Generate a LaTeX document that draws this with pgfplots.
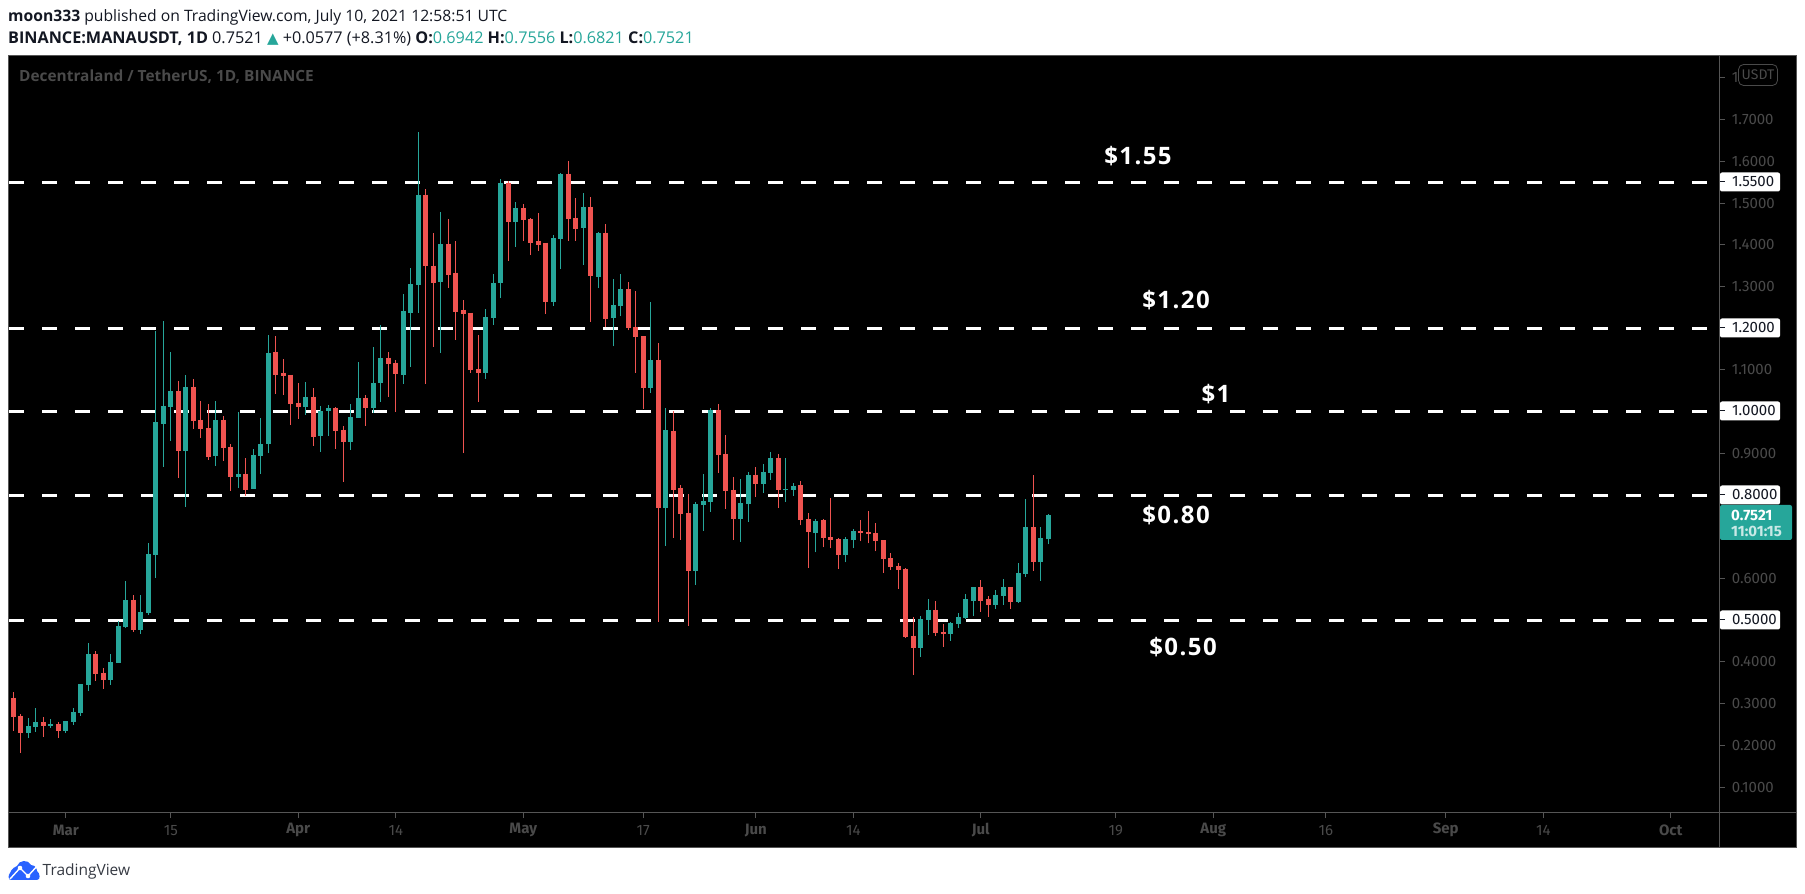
\documentclass[border=0pt]{standalone}
\usepackage{pgfplots}
\usepackage{pgfplotstable}
\usepackage{fontspec}
\pgfplotsset{compat=1.18}
\setmainfont{Open Sans}
\newfontfamily\axfont{Fira Sans}
\newfontfamily\symfont{DejaVu Sans}
\newfontfamily\annfont[LetterSpace=6]{Open Sans}
\definecolor{up}{HTML}{26A69A}
\definecolor{dn}{HTML}{EF5350}
\definecolor{axc}{HTML}{555555}
\definecolor{txc}{HTML}{4A4A4A}
\definecolor{ink}{HTML}{131722}
\definecolor{tvb}{HTML}{2962FF}
\pgfplotstableread{
d o h l c
-5 0.2303 0.2663 0.2183 0.2471
-4 0.2447 0.2903 0.2327 0.2567
-2 0.2471 0.2639 0.2423 0.2519
0 0.2351 0.2591 0.2303 0.2591
1 0.2567 0.2903 0.2495 0.2807
2 0.2783 0.3479 0.2711 0.3479
3 0.3455 0.4463 0.3311 0.4199
6 0.3575 0.4199 0.3455 0.4007
7 0.3983 0.4991 0.3983 0.4871
8 0.4847 0.5951 0.4823 0.5495
10 0.4775 0.5615 0.4679 0.5207
11 0.5183 0.6863 0.5135 0.6599
12 0.6575 1.1923 0.6023 0.9743
13 0.9715 1.2163 0.8683 1.0147
14 1.0123 1.1443 0.9307 1.0507
16 0.9067 1.0891 0.7723 1.0603
20 0.8947 1.0267 0.8707 0.9811
23 0.8443 0.9991 0.8179 0.8515
25 0.8155 0.9115 0.8155 0.8971
26 0.8947 0.9859 0.8515 0.9235
27 0.9235 1.1827 0.9019 1.1419
32 1.0123 1.0723 0.9931 1.0363
34 0.9427 1.0147 0.9043 1.0027
35 1.0027 1.0171 0.9427 1.0099
38 0.9283 1.0195 0.9091 0.9883
39 0.9859 1.1203 0.9859 1.0339
41 1.0099 1.1539 0.9979 1.0699
42 1.0699 1.2067 1.0243 1.1299
45 1.0891 1.2811 1.0675 1.2403
46 1.2373 1.3453 1.1077 1.3069
47 1.3045 1.6693 1.2373 1.5205
50 1.3117 1.4797 1.1413 1.4029
56 1.0933 1.2469 1.0789 1.2277
57 1.2253 1.3309 1.2085 1.3093
58 1.3093 1.5589 1.2733 1.5493
60 1.4557 1.5037 1.3957 1.4893
65 1.2637 1.4245 1.2541 1.4173
66 1.4149 1.5733 1.3429 1.5709
69 1.4413 1.5253 1.3525 1.4917
71 1.3237 1.4317 1.2973 1.4293
73 1.2235 1.3171 1.1563 1.2547
74 1.2523 1.3291 1.2283 1.2931
78 1.0579 1.2619 1.0459 1.1251
80 0.7699 1.0099 0.6787 0.9571
84 0.6187 0.7843 0.5851 0.7795
85 0.7771 0.8515 0.7147 0.7867
86 0.7843 1.0099 0.7603 1.0051
90 0.7435 0.8395 0.6883 0.7819
91 0.7795 0.8563 0.7363 0.8491
93 0.8275 0.8755 0.8059 0.8563
94 0.8539 0.9043 0.8371 0.8899
96 0.8131 0.8899 0.7843 0.8155
97 0.8131 0.8299 0.7987 0.8227
100 0.7081 0.7417 0.6625 0.7369
104 0.6553 0.6985 0.6385 0.6937
105 0.6913 0.7177 0.6721 0.7129
114 0.4345 0.5113 0.4129 0.5041
115 0.5017 0.5521 0.4657 0.5257
118 0.4681 0.4969 0.4513 0.4945
119 0.4921 0.5185 0.4825 0.5089
120 0.5065 0.5641 0.5041 0.5521
121 0.5473 0.5809 0.5113 0.5809
124 0.5377 0.5737 0.5281 0.5617
125 0.5593 0.6001 0.5377 0.5809
127 0.5449 0.6361 0.5425 0.6145
128 0.6121 0.7897 0.6049 0.7225
130 0.6385 0.7225 0.5953 0.6961
131 0.6942 0.7556 0.6821 0.7521
}\upcandles
\pgfplotstableread{
d o h l c
-7 0.3143 0.3287 0.2351 0.2687
-6 0.2711 0.2759 0.1823 0.2303
-3 0.2567 0.2687 0.2207 0.2471
-1 0.2519 0.2567 0.2183 0.2351
4 0.4199 0.4271 0.3551 0.3719
5 0.3743 0.3863 0.3359 0.3575
9 0.5495 0.5615 0.4727 0.4775
15 1.0507 1.0747 0.8419 0.9067
17 1.0603 1.0795 0.9595 0.9787
18 0.9811 1.0267 0.9379 0.9595
19 0.9619 1.0195 0.8851 0.8923
21 0.9811 0.9907 0.8827 0.9139
22 0.9163 0.9235 0.8107 0.8443
24 0.8515 0.8899 0.7987 0.8131
28 1.1443 1.1803 1.0435 1.0891
29 1.0939 1.1275 1.0411 1.0867
30 1.0891 1.0891 0.9691 1.0195
31 1.0219 1.0699 0.9835 1.0123
33 1.0363 1.0579 0.9187 0.9403
36 1.0099 1.0123 0.9115 0.9547
37 0.9571 0.9667 0.8323 0.9283
40 1.0339 1.0411 0.9667 1.0099
43 1.1299 1.1443 1.0363 1.1155
44 1.1179 1.1251 0.9999 1.0915
48 1.5205 1.5349 1.0669 1.3501
49 1.3501 1.4293 1.1557 1.3093
51 1.4029 1.4629 1.2973 1.3285
52 1.3333 1.4101 1.1725 1.2397
53 1.2445 1.2685 0.9005 1.2349
54 1.2373 1.2373 1.0933 1.1005
55 1.1029 1.1845 1.0237 1.0933
59 1.5493 1.5541 1.3621 1.4557
61 1.4893 1.4989 1.4101 1.4605
62 1.4629 1.4653 1.3765 1.4053
63 1.4101 1.4773 1.3861 1.4005
64 1.4053 1.4053 1.2349 1.2637
67 1.5709 1.6021 1.4101 1.4629
68 1.4653 1.5133 1.4101 1.4389
70 1.4917 1.5157 1.2157 1.3261
72 1.4293 1.4509 1.2037 1.2229
75 1.2931 1.3099 1.1947 1.1995
76 1.2019 1.2883 1.0939 1.1779
77 1.1803 1.1803 1.0075 1.0579
79 1.1251 1.1635 0.4963 0.7699
81 0.9547 1.0027 0.6979 0.8131
82 0.8179 0.8251 0.6931 0.7555
83 0.7579 0.8035 0.4867 0.6187
87 1.0051 1.0195 0.8539 0.8971
88 0.8995 0.9451 0.7675 0.8107
89 0.8131 0.8443 0.6931 0.7435
92 0.8491 0.8683 0.7963 0.8275
95 0.8899 0.8995 0.7699 0.8131
98 0.8233 0.8329 0.7273 0.7393
99 0.7417 0.7561 0.6265 0.7105
101 0.7393 0.7417 0.6745 0.6961
102 0.6985 0.7921 0.6721 0.6913
103 0.6937 0.6961 0.6241 0.6553
106 0.7129 0.7393 0.6889 0.7081
107 0.7105 0.7609 0.6841 0.7057
108 0.7081 0.7321 0.6649 0.6889
109 0.6913 0.6913 0.6145 0.6457
110 0.6481 0.6601 0.6217 0.6289
111 0.6313 0.6361 0.5761 0.6217
112 0.6241 0.6265 0.4585 0.4609
113 0.4633 0.5089 0.3697 0.4345
116 0.5257 0.5473 0.4633 0.4705
117 0.4729 0.4921 0.4369 0.4681
122 0.5809 0.5977 0.5209 0.5473
123 0.5521 0.5593 0.5089 0.5377
126 0.5809 0.5809 0.5281 0.5449
129 0.7225 0.8473 0.6193 0.6385
}\downcandles
\begin{document}
\begin{tikzpicture}
\path[use as bounding box] (0pt,0pt) rectangle (1805pt,894pt);
\begin{scope}[x=1pt,y=-1pt,yshift=894pt]
  \fill[black] (8,55) rectangle (1797,847.5);
\end{scope}
\begin{axis}[
  at={(8pt,81.5pt)}, anchor=south west, scale only axis,
  width=1711pt, height=757pt,
  xmin=-7.707, xmax=220.43, ymin=0.0392, ymax=1.8539,
  axis x line*=bottom, axis y line*=right,
  axis line style={axc,-,line width=1pt},
  tick style={axc,line width=1pt},
  tick align=outside, major tick length=5.7pt,
  xtick={0,14,31,44,61,77,92,105,122,140,153,168,184,197,214},
  xticklabels={\textbf{Mar},15,\textbf{Apr},14,\textbf{May},17,\textbf{Jun},14,\textbf{Jul},19,\textbf{Aug},16,\textbf{Sep},14,\textbf{Oct}},
  xticklabel style={font=\axfont\fontsize{15pt}{17pt}\selectfont, text=txc, anchor=center, yshift=-12pt},
  ytick={0.1,0.2,0.3,0.4,0.5,0.6,0.7,0.8,0.9,1.0,1.1,1.2,1.3,1.4,1.5,1.6,1.7,1.8},
  yticklabels={0.1000,0.2000,0.3000,0.4000,,0.6000,,,0.9000,,1.1000,,1.3000,1.4000,1.5000,1.6000,1.7000,1},
  yticklabel style={font=\axfont\fontsize{15pt}{17pt}\selectfont, text=txc, anchor=west, inner sep=0pt, xshift=7pt},
  clip=true,
]
\addplot[white, line width=3pt, dash pattern=on 15pt off 18pt] coordinates {(-7.573,1.55) (218.83,1.55)};
\addplot[white, line width=3pt, dash pattern=on 15pt off 18pt] coordinates {(-7.573,1.2) (218.83,1.2)};
\addplot[white, line width=3pt, dash pattern=on 15pt off 18pt] coordinates {(-7.573,1.0) (218.83,1.0)};
\addplot[white, line width=3pt, dash pattern=on 15pt off 18pt] coordinates {(-7.573,0.8) (218.83,0.8)};
\addplot[white, line width=3pt, dash pattern=on 15pt off 18pt] coordinates {(-7.573,0.5) (218.83,0.5)};
\addplot[up, line width=1pt, quiver={u=0, v={\thisrow{h}-\thisrow{l}}}] table[x=d,y=l] {\upcandles};
\addplot[dn, line width=1pt, quiver={u=0, v={\thisrow{h}-\thisrow{l}}}] table[x=d,y=l] {\downcandles};
\addplot[up, line width=5pt, quiver={u=0, v={\thisrow{c}-\thisrow{o}}}] table[x=d,y=o] {\upcandles};
\addplot[dn, line width=5pt, quiver={u=0, v={\thisrow{c}-\thisrow{o}}}] table[x=d,y=o] {\downcandles};
\end{axis}
\begin{scope}[x=1pt,y=-1pt,yshift=894pt]
  % frame
  \draw[axc,line width=1pt] (8.5,55.5) rectangle (1796.5,847.5);
  \draw[axc,line width=1pt] (1719.5,55.5) -- (1719.5,847.5);
  \draw[axc,line width=1pt] (8.5,812.5) -- (1796.5,812.5);
  % header
  \node[anchor=base west,inner sep=0pt,text=ink,font=\fontsize{15.7pt}{17pt}\selectfont] at (8,22) {\textbf{moon333} published on TradingView.com, July 10, 2021 12:58:51 UTC};
  \node[anchor=base west,inner sep=0pt,text=ink,font=\fontsize{16.2pt}{17pt}\selectfont] at (8,44) {\textbf{BINANCE:MANAUSDT, 1D} 0.7521 \textcolor{up}{\symfont\fontsize{15pt}{16pt}\selectfont ▲} +0.0577 (+8.31\%) \textbf{O:}\textcolor{up}{0.6942} \textbf{H:}\textcolor{up}{0.7556} \textbf{L:}\textcolor{up}{0.6821} \textbf{C:}\textcolor{up}{0.7521}};
  \node[anchor=base west,inner sep=0pt,text=txc,font=\fontsize{15.4pt}{17pt}\selectfont\bfseries] at (19,82) {Decentraland / TetherUS, 1D, BINANCE};
  % USDT badge
  \draw[txc,fill=black,rounded corners=5pt,line width=0.8pt] (1738.5,64.5) rectangle (1777.5,85.5);
  \node[text=txc,inner sep=0pt,font=\axfont\fontsize{14pt}{16pt}\selectfont] at (1758,75) {USDT};
  % level labels
  \foreach \yy/\tt in {182/1.5500,328/1.2000,411/1.0000,495/0.8000,620/0.5000}{
    \fill[white,rounded corners=2pt] (1720,\yy-9.5) rectangle (1780,\yy+9.5);
    \draw[ink,line width=1pt] (1720,\yy) -- (1725,\yy);
    \node[anchor=west,inner sep=0pt,text=ink,font=\axfont\fontsize{15pt}{17pt}\selectfont] at (1732,\yy) {\tt};
  }
  % last price
  \fill[up,rounded corners=2pt] (1720,505) rectangle (1792,540);
  \node[anchor=west,inner sep=0pt,text=white,font=\axfont\fontsize{15pt}{17pt}\selectfont\bfseries] at (1731,515) {0.7521};
  \node[anchor=west,inner sep=0pt,text=white!75!up,font=\axfont\fontsize{15pt}{17pt}\selectfont\bfseries] at (1731,531) {11:01:15};
  % annotations
  \node[text=white,inner sep=0pt,font=\annfont\fontsize{24pt}{28pt}\selectfont\bfseries] at (1138,156) {\$1.55};
  \node[text=white,inner sep=0pt,font=\annfont\fontsize{24pt}{28pt}\selectfont\bfseries] at (1176,300) {\$1.20};
  \node[text=white,inner sep=0pt,font=\annfont\fontsize{24pt}{28pt}\selectfont\bfseries] at (1216,394) {\$1};
  \node[text=white,inner sep=0pt,font=\annfont\fontsize{24pt}{28pt}\selectfont\bfseries] at (1176,515) {\$0.80};
  \node[text=white,inner sep=0pt,font=\annfont\fontsize{24pt}{28pt}\selectfont\bfseries] at (1183,647) {\$0.50};
  % logo
  \fill[tvb] (11,880) .. controls (8,880) and (8,875) .. (10,873) .. controls (12,868) and (15,867) .. (17,866) .. controls (19,860) and (28,859) .. (31,865) .. controls (36,865) and (37,870) .. (37,871) .. controls (40,873) and (41,880) .. (37,880) -- cycle;
  \draw[white,line width=1.4pt] (10,879) -- (20,868) -- (28,876) -- (39,864);
  \fill[white] (20,868) circle (2.3);
  \fill[white] (28,876) circle (2.3);
  \node[anchor=base west,inner sep=0pt,text=ink!85,font=\fontsize{15.5pt}{18pt}\selectfont] at (42.5,876) {TradingView};
\end{scope}
\end{tikzpicture}
\end{document}
